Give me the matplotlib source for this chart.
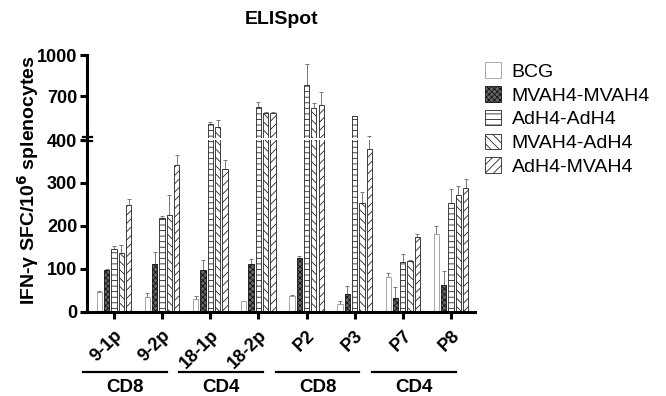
import numpy as np
import matplotlib
matplotlib.use("Agg")
from matplotlib import pyplot as plt
from matplotlib.patches import Patch
from matplotlib.lines import Line2D

plt.rcParams['font.family'] = ['Liberation Sans', 'DejaVu Sans']
plt.rcParams['hatch.linewidth'] = 0.6

# data
peptides = ["9-1p", "9-2p", "18-1p", "18-2p", "P2", "P3", "P7", "P8"]
groups = ["CD8", "CD4", "CD8", "CD4"]
series = ["BCG", "MVAH4-MVAH4", "AdH4-AdH4", "MVAH4-AdH4", "AdH4-MVAH4"]

bcg = [45, 34, 29, 25, 36, 17, 80, 182]
mva_mva = [98, 112, 97, 111, 126, 41, 33, 62]
ad_ad = [145, 218, 501, 625, 784, 558, 115, 254]
mva_ad = [136, 226, 477, 580, 616, 253, 119, 271]
ad_mva = [248, 341, 332, 580, 637, 380, 174, 289]

bcg_err = [3, 9, 7, 1, 4, 7, 9, 17]
mva_mva_err = [2, 28, 23, 11, 3, 19, 24, 33]
ad_ad_err = [8, 4, 14, 34, 151, 2, 19, 33]
mva_ad_err = [19, 45, 53, 9, 38, 25, 2, 21]
ad_mva_err = [15, 25, 21, 2, 92, 28, 8, 21]

values = [bcg, mva_mva, ad_ad, mva_ad, ad_mva]
errors = [bcg_err, mva_mva_err, ad_ad_err, mva_ad_err, ad_mva_err]

# styles for each series
faces = ["white", "#666666", "white", "white", "white"]
edges = ["#999999", "#111111", "#222222", "#222222", "#222222"]
hatches = [None, "xxxxxx", "---", "\\\\\\\\", "////"]

fig = plt.figure(figsize=(6.66, 3.96), dpi=100)
W, H = 666.0, 396.0
left = 87 / W
width = (475 - 87) / W
ax_bot = fig.add_axes([left, 1 - 311.7 / H, width, (311.7 - 140) / H])
ax_top = fig.add_axes([left, 1 - 137.5 / H, width, (137.5 - 55) / H])

x = np.arange(len(peptides))
step = 0.152
bw = 0.11

for ax in (ax_bot, ax_top):
    for i in range(len(series)):
        xs = x + (i - 2) * step
        ax.bar(xs, values[i], bw, color=faces[i], edgecolor=edges[i],
               hatch=hatches[i], linewidth=0.6, zorder=2)
        ax.errorbar(xs, values[i], yerr=[np.zeros(len(x)), errors[i]],
                    fmt="none", ecolor="#777777", elinewidth=0.7,
                    capsize=1.5, capthick=0.7, zorder=1)
    ax.set_xlim(-0.56, 7.5)
    for s in ["top", "right"]:
        ax.spines[s].set_visible(False)
    ax.spines["left"].set_linewidth(2.2)
    ax.tick_params(axis="y", width=2.2, length=5, pad=2)

ax_bot.set_ylim(0, 400)
ax_bot.set_yticks([0, 100, 200, 300, 400])
ax_bot.set_yticklabels(["0", "100", "200", "300", "400"], fontweight="bold",
                       fontsize=13)
ax_bot.spines["bottom"].set_linewidth(2.2)
ax_bot.set_xticks(x)
ax_bot.set_xticklabels(peptides, rotation=45, ha="right",
                       rotation_mode="anchor", fontsize=13, fontweight="bold")
ax_bot.tick_params(axis="x", width=2.2, length=5, pad=6)

ax_top.set_ylim(400, 1000)
ax_top.set_yticks([700, 1000])
ax_top.set_yticklabels(["700", "1000"], fontweight="bold", fontsize=13)
ax_top.spines["bottom"].set_visible(False)
ax_top.set_xticks([])

# axis break marks
for yy in (136.5, 141):
    fig.add_artist(Line2D([83 / W, 92 / W], [1 - yy / H, 1 - yy / H],
                          color="black", lw=1.6, transform=fig.transFigure))

fig.text(282 / W, 1 - 20 / H, "ELISpot", ha="center", va="center",
         fontsize=14, fontweight="bold")
fig.text(28 / W, 1 - 180 / H, r"IFN-γ SFC/10$^\mathbf{6}$ splenocytes",
         rotation=90, ha="center", va="center", fontsize=14, fontweight="bold")

# group brackets under peptide pairs
trans = ax_bot.get_xaxis_transform()
line_y = -(371.7 - 311.7) / (311.7 - 140)
text_y = -(388 - 311.7) / (311.7 - 140)
for g, name in enumerate(groups):
    x0 = 2 * g - 0.64
    x1 = 2 * g + 1.1
    ax_bot.add_line(Line2D([x0, x1], [line_y, line_y], color="black", lw=1.6,
                           transform=trans, clip_on=False))
    ax_bot.text((x0 + x1) / 2, text_y, name, transform=trans, ha="center",
                va="center", fontsize=13.5, fontweight="bold")

handles = [Patch(facecolor=faces[i], edgecolor=edges[i], hatch=hatches[i],
                 linewidth=0.6, label=series[i]) for i in range(len(series))]
fig.legend(handles=handles, loc="upper left", bbox_to_anchor=(467 / W, 1 - 45 / H),
           frameon=False, fontsize=14, handlelength=0.85, handleheight=0.85,
           labelspacing=0.27, handletextpad=0.55)

fig.savefig("out.png", dpi=100)
